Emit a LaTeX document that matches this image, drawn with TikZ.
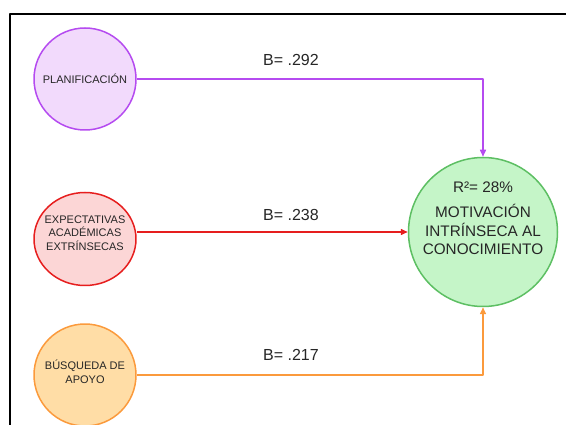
\documentclass[tikz,border=0pt]{standalone}
\usepackage{fontspec}
\setmainfont{Liberation Sans}
\usetikzlibrary{arrows.meta,shapes.geometric}
\definecolor{moradoL}{HTML}{B54BF0}
\definecolor{moradoF}{HTML}{F2DAFC}
\definecolor{rojoL}{HTML}{E61E1E}
\definecolor{rojoF}{HTML}{FCD6D6}
\definecolor{naranjaL}{HTML}{FB9A3C}
\definecolor{naranjaF}{HTML}{FFDDA6}
\definecolor{verdeL}{HTML}{5DBF63}
\definecolor{verdeF}{HTML}{C5F5C8}
\tikzset{
  var/.style={circle, line width=1.5pt, inner sep=0pt, minimum size=102pt},
  txt/.style={align=center, text=black!85, font=\fontsize{11}{13.5}\selectfont},
  coef/.style={text=black!85, font=\fontsize{16}{18}\selectfont},
  flecha/.style={line width=1.5pt, -{Triangle[width=6pt,length=7pt]}}
}
\begin{document}
\begin{tikzpicture}[x=1pt, y=-1pt, line join=round]
	\useasboundingbox (0,0) rectangle (566,425);
	\draw[line width=2pt] (566,14) -- (10,14) -- (10,425);
	% variables
	\node[var, draw=moradoL, fill=moradoF] (P) at (85,79) {};
	\node[ellipse, line width=1.5pt, inner sep=0pt, minimum width=102pt, minimum height=93pt, draw=rojoL, fill=rojoF] (E) at (85,239) {};
	\node[var, draw=naranjaL, fill=naranjaF] (B) at (85,375) {};
	\node[var, minimum size=149pt, draw=verdeL, fill=verdeF] (M) at (483,232) {};
	\node[txt] (Pt) at (P) {PLANIFICACIÓN};
	\node[txt] (Et) at (85,233) {EXPECTATIVAS\\ACADÉMICAS\\EXTRÍNSECAS};
	\node[txt] (Bt) at (85,372) {BÚSQUEDA DE\\APOYO};
	\node[align=center, text=black!85, font=\fontsize{15.3}{18.5}\selectfont] (Mt) at (483,218) {R²= 28\%\\[7pt]MOTIVACIÓN\\INTRÍNSECA AL\\CONOCIMIENTO};
	% coeficientes
	\draw[flecha, moradoL] (P.east) -| (M.north);
	\draw[flecha, rojoL] (E.east |- M.west) -- (M.west);
	\draw[flecha, naranjaL] (B.east) -| (M.south);
	\node[coef] (b1) at (291,60) {B= .292};
	\node[coef] (b2) at (291,215) {B= .238};
	\node[coef] (b3) at (291,355) {B= .217};
\end{tikzpicture}
\end{document}
